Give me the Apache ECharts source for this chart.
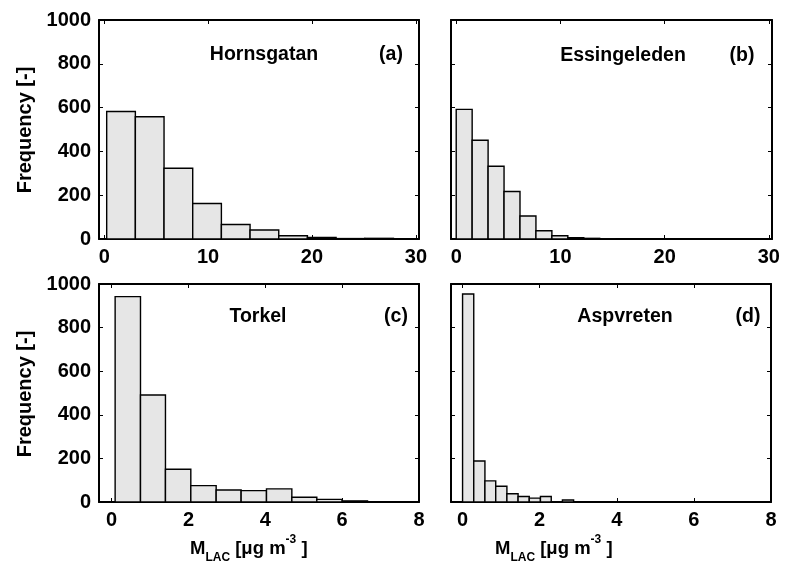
<!DOCTYPE html>
<html><head><meta charset="utf-8">
<script src="https://cdn.jsdelivr.net/npm/echarts@6/dist/echarts.min.js"></script>
<style>html,body{margin:0;padding:0;background:#fff}#c{width:789px;height:578px}</style>
</head><body><div id="c"></div>
<script>
// ---- data ----
const panelNames = ['Hornsgatan', 'Essingeleden', 'Torkel', 'Aspvreten'];
const panelTags = ['(a)', '(b)', '(c)', '(d)'];

const edgesA = [0.24, 3.00, 5.76, 8.52, 11.28, 14.04, 16.80, 19.56, 22.32, 25.08, 27.84];
const countsA = [582, 558, 323, 162, 66, 41, 15, 7, 2, 3];

const edgesB = [0.00, 1.53, 3.06, 4.59, 6.12, 7.65, 9.18, 10.71, 12.24, 13.77, 15.30];
const countsB = [592, 451, 332, 217, 105, 38, 15, 6, 3, 1];

const edgesC = [0.09, 0.75, 1.40, 2.06, 2.72, 3.37, 4.03, 4.69, 5.34, 6.00, 6.66];
const countsC = [942, 491, 150, 75, 55, 52, 60, 22, 12, 5];

const edgesD = [0.00, 0.29, 0.58, 0.86, 1.15, 1.44, 1.73, 2.02, 2.30, 2.59, 2.88];
const countsD = [954, 188, 97, 72, 38, 25, 18, 25, 1, 9];

const xTicksTop = [0, 10, 20, 30];
const xTicksBottom = [0, 2, 4, 6, 8];
const yTicks = [0, 200, 400, 600, 800, 1000];
const yLabel = 'Frequency [-]';

// ---- layout ----
const FONT = '"Liberation Sans", Arial, sans-serif';
const grids = [
  {left: 99, top: 20, width: 320, height: 219},
  {left: 451, top: 20, width: 321, height: 219},
  {left: 99, top: 284, width: 320, height: 218},
  {left: 451, top: 284, width: 320, height: 218}
];
const xRanges = [[-0.5, 30.3], [-0.5, 30.3], [-0.33, 8], [-0.3, 8]];
const xTickSets = [xTicksTop, xTicksTop, xTicksBottom, xTicksBottom];
const edgesAll = [edgesA, edgesB, edgesC, edgesD];
const countsAll = [countsA, countsB, countsC, countsD];

const lineStyle = {color: '#000', width: 2};
const xAxes = [], yAxes = [], series = [];
for (let i = 0; i < 4; i++) {
  const ticks = xTickSets[i];
  xAxes.push({
    type: 'value', gridIndex: i, position: 'bottom', min: xRanges[i][0], max: xRanges[i][1],
    axisLine: {show: true, onZero: false, lineStyle},
    axisTick: {show: true, inside: true, length: 4, customValues: ticks, lineStyle: {color: '#000', width: 1}},
    axisLabel: {show: true, customValues: ticks, margin: 8, color: '#000', fontFamily: FONT, fontWeight: 'bold', fontSize: 20,
      formatter: v => String(v)},
    splitLine: {show: false}
  });
  xAxes.push({
    type: 'value', gridIndex: i, position: 'top', min: xRanges[i][0], max: xRanges[i][1],
    axisLine: {show: true, onZero: false, lineStyle},
    axisTick: {show: true, inside: true, length: 4, customValues: ticks, lineStyle: {color: '#000', width: 1}},
    axisLabel: {show: false},
    splitLine: {show: false}
  });
  yAxes.push({
    type: 'value', gridIndex: i, position: 'left', min: 0, max: 1000, interval: 200,
    axisLine: {show: true, onZero: false, lineStyle},
    axisTick: {show: true, inside: true, length: 4, lineStyle: {color: '#000', width: 1}},
    axisLabel: {show: i % 2 === 0, margin: 8, color: '#000', fontFamily: FONT, fontWeight: 'bold', fontSize: 20,
      customValues: yTicks, formatter: v => String(v)},
    splitLine: {show: false}
  });
  yAxes.push({
    type: 'value', gridIndex: i, position: 'right', min: 0, max: 1000, interval: 200,
    axisLine: {show: true, onZero: false, lineStyle},
    axisTick: {show: true, inside: true, length: 4, lineStyle: {color: '#000', width: 1}},
    axisLabel: {show: false},
    splitLine: {show: false}
  });
  const edges = edgesAll[i], counts = countsAll[i];
  const data = counts.map((c, k) => [edges[k], edges[k + 1], c]);
  series.push({
    type: 'custom', xAxisIndex: 2 * i, yAxisIndex: 2 * i, z: 1,
    encode: {x: [0, 1], y: 2},
    data,
    renderItem: function (params, api) {
      const p0 = api.coord([api.value(0), api.value(2)]);
      const p1 = api.coord([api.value(1), 0]);
      return {
        type: 'rect',
        shape: {x: p0[0], y: p0[1], width: p1[0] - p0[0], height: p1[1] - p0[1]},
        style: {fill: '#e6e6e6', stroke: '#000', lineWidth: 1.4}
      };
    }
  });
}

const txt = (x, y, text, size) => ({
  type: 'text', x, y, z: 10,
  style: {text, fill: '#000', font: 'bold ' + (size || 19.5) + 'px ' + FONT, align: 'center', verticalAlign: 'middle'}
});

const titlePos = [[264, 55, 391, 55], [623, 56, 742, 56], [258, 317, 396, 317], [625, 317, 748, 317]];
const graphics = [];
for (let i = 0; i < 4; i++) {
  const t = titlePos[i];
  graphics.push(txt(t[0], t[1], panelNames[i]));
  graphics.push(txt(t[2], t[3], panelTags[i]));
}
graphics.push(Object.assign(txt(25, 130, yLabel, 20), {rotation: Math.PI / 2}));
graphics.push(Object.assign(txt(25, 394, yLabel, 20), {rotation: Math.PI / 2}));

const xNameRich = {
  m: {fontSize: 18.5, fontWeight: 'bold', fontFamily: FONT, color: '#000', lineHeight: 30},
  sub: {fontSize: 12, fontWeight: 'bold', fontFamily: FONT, color: '#000', verticalAlign: 'bottom', lineHeight: 14},
  sup: {fontSize: 12, fontWeight: 'bold', fontFamily: FONT, color: '#000', verticalAlign: 'top', lineHeight: 14}
};
const xName = '{m|M}{sub|LAC}{m| [μg m}{sup|-3}{m| ]}';
[190, 495].forEach(x => {
  graphics.push({
    type: 'text', x, y: 549, z: 10,
    style: {text: xName, rich: xNameRich, align: 'left', verticalAlign: 'middle', fill: '#000', font: 'bold 18.5px ' + FONT}
  });
});

const chart = echarts.init(document.getElementById('c'), null, {renderer: 'canvas'});
chart.setOption({
  animation: false,
  backgroundColor: '#fff',
  grid: grids.map(g => Object.assign({containLabel: false}, g)),
  xAxis: xAxes,
  yAxis: yAxes,
  series,
  graphic: graphics
});
</script>
</body></html>
